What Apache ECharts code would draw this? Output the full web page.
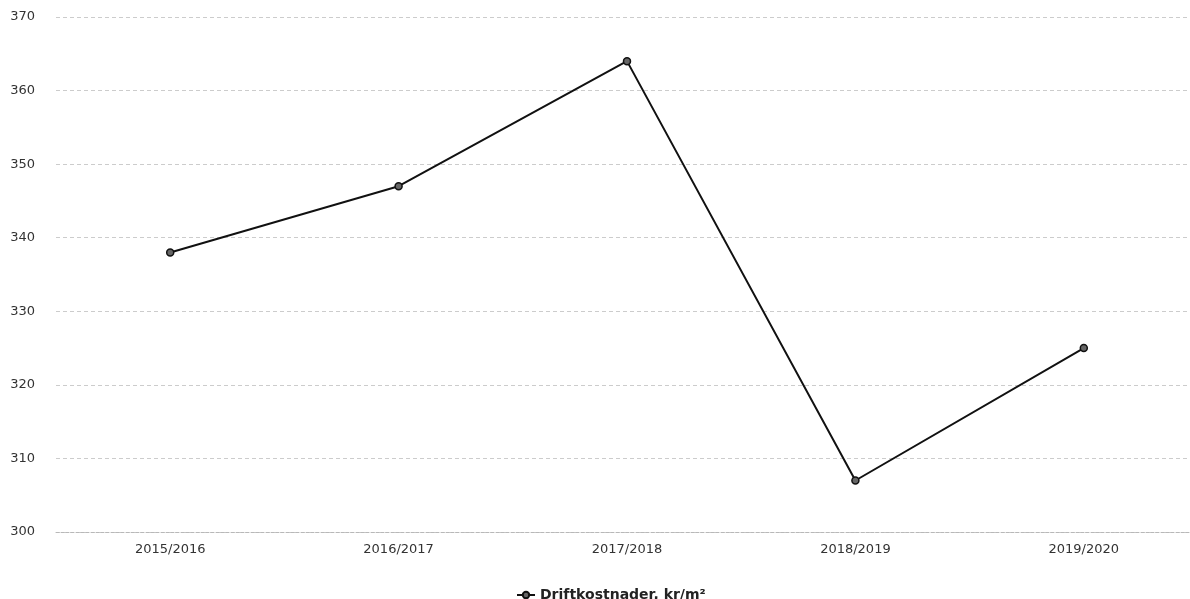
<!DOCTYPE html>
<html>
<head>
<meta charset="utf-8">
<script src="https://cdn.jsdelivr.net/npm/echarts@6/dist/echarts.min.js"></script>
<style>
  html, body { margin: 0; padding: 0; background: #fff; overflow: hidden; }
  /* the plot runs a few pixels past the right edge of the window */
  #chart { width: 1198px; height: 599px; }
</style>
</head>
<body>
<div id="chart"></div>
<script>
// Operating cost per square metre by season
const categories = ['2015/2016', '2016/2017', '2017/2018', '2018/2019', '2019/2020'];
const seriesName = 'Driftkostnader, kr/m²';
const costValues = [338, 347, 364, 307, 325];
const yMin = 300;
const yMax = 370;
const yStep = 10;

const chart = echarts.init(document.getElementById('chart'), null, { renderer: 'canvas' });
const font = '"DejaVu Sans", Verdana, sans-serif';

chart.setOption({
  animation: false,
  backgroundColor: '#ffffff',
  grid: { left: 56, top: 17, right: 0, bottom: 67, containLabel: false },
  legend: {
    top: 583,
    left: 511,
    itemWidth: 18,
    itemHeight: 8,
    itemGap: 10,
    textStyle: { fontFamily: font, fontSize: 14, fontWeight: 'bold', color: '#222' },
    data: [seriesName]
  },
  xAxis: {
    type: 'category',
    data: categories,
    boundaryGap: true,
    axisLine: { show: true, lineStyle: { color: '#b8b8b8', width: 1, type: [3, 2] } },
    axisTick: { show: false },
    axisLabel: { margin: 11, fontFamily: font, fontSize: 13, color: '#333' },
    splitLine: { show: false }
  },
  yAxis: {
    type: 'value',
    min: yMin,
    max: yMax,
    interval: yStep,
    axisLine: { show: false },
    axisTick: { show: false },
    axisLabel: { margin: 21, fontFamily: font, fontSize: 13, color: '#333' },
    splitLine: { show: true, lineStyle: { color: '#cccccc', width: 1, type: [4, 3] } }
  },
  series: [{
    name: seriesName,
    type: 'line',
    data: costValues,
    symbol: 'circle',
    symbolSize: 7,
    lineStyle: { color: '#111', width: 2 },
    itemStyle: { color: '#666', borderColor: '#111', borderWidth: 1.5 },
    label: { show: false }
  }]
});
</script>
</body>
</html>
